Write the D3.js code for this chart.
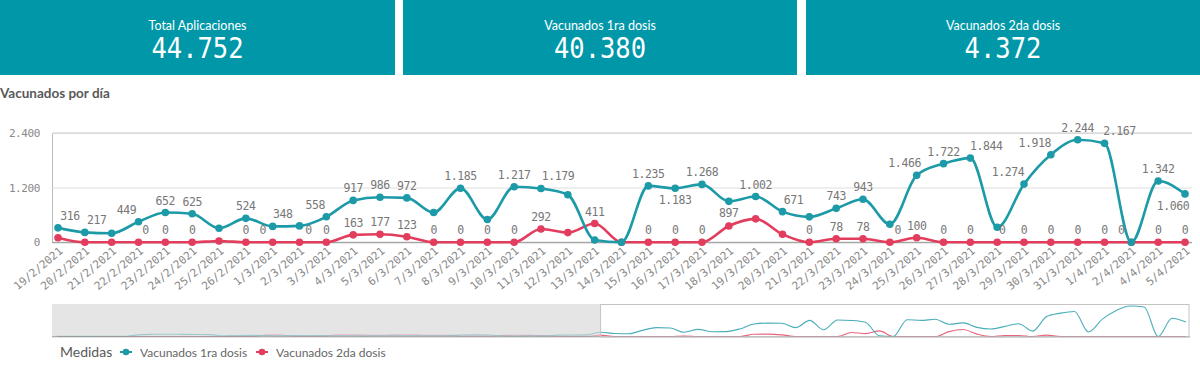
<!DOCTYPE html>
<html><head><meta charset="utf-8">
<script src="https://cdn.jsdelivr.net/npm/d3@7"></script>
<style>
html,body{margin:0;padding:0;background:#fff;}
svg{display:block;}
</style></head>
<body><svg id="c" width="1200" height="378"></svg>
<script>
// ---------- DATA ----------
const kpiTitles = ["Total Aplicaciones", "Vacunados 1ra dosis", "Vacunados 2da dosis"];
const kpiValues = [44752, 40380, 4372];

const dates = ["19/2/2021","20/2/2021","21/2/2021","22/2/2021","23/2/2021","24/2/2021","25/2/2021","26/2/2021",
 "1/3/2021","2/3/2021","3/3/2021","4/3/2021","5/3/2021","6/3/2021","7/3/2021","8/3/2021","9/3/2021","10/3/2021",
 "11/3/2021","12/3/2021","13/3/2021","14/3/2021","15/3/2021","16/3/2021","17/3/2021","18/3/2021","19/3/2021","20/3/2021",
 "21/3/2021","22/3/2021","23/3/2021","24/3/2021","25/3/2021","26/3/2021","27/3/2021","28/3/2021","29/3/2021","30/3/2021",
 "31/3/2021","1/4/2021","2/4/2021","4/4/2021","5/4/2021"];
const dosis1 = [316,217,198,449,652,625,308,524,
 348,359,558,917,986,972,652,1185,498,1217,1179,1042,50,0,1235,1183,1268,897,1002,671,557,743,943,396,1466,1722,1844,330,1274,1918,2244,
 2167,0,1342,1060];
const dosis2 = [101,0,0,0,0,0,30,0,
 0,0,0,163,177,123,0,0,0,0,292,212,411,0,0,0,0,358,513,176,0,78,78,0,100,0,0,0,0,0,0,
 0,0,0,0];
const hiddenLabels1 = ["21/2/2021","25/2/2021","2/3/2021","7/3/2021","9/3/2021","12/3/2021","13/3/2021","14/3/2021",
 "21/3/2021","24/3/2021","28/3/2021","2/4/2021"];
const hiddenLabels2 = ["19/2/2021","20/2/2021","21/2/2021","25/2/2021","12/3/2021","14/3/2021","18/3/2021","19/3/2021","20/3/2021"];
const yTicks = [0, 1200, 2400];

// earlier period only visible in the navigator (estimated small values)
const prevDates = d3.range(39).map(i => "prev" + i);
const prevDosis1 = [10,15,10,20,15,20,140,160,170,160,150,140,50,70,80,70,60,70,60,70,50,50,40,50,50,60,50,50,60,110,120,110,40,40,50,40,100,110,120];
const prevDosis2 = [0,0,0,0,0,0,0,0,0,0,0,0,0,0,0,100,110,30,30,30,100,110,100,90,100,110,100,90,90,40,40,40,80,90,80,70,20,20,20];

const seriesNames = ["Vacunados 1ra dosis", "Vacunados 2da dosis"];

// ---------- STYLE ----------
const C1 = "#1c9aa7", C2 = "#e23d5d", KPI = "#0098a9";
const mono = "'DejaVu Sans Mono', monospace";
const sans = "Lato, 'Noto Sans', sans-serif";
// label placement tweaks (collision avoidance in the original)
const labelDx1 = {"19/2/2021":12,"20/2/2021":12,"22/2/2021":-12,"1/3/2021":10,"3/3/2021":-11,"11/3/2021":17,"20/3/2021":11,
  "25/3/2021":-12,"27/3/2021":16,"29/3/2021":-16,"30/3/2021":-16,"1/4/2021":15,"5/4/2021":-12};
const labelBelow1 = ["16/3/2021","18/3/2021","5/4/2021"];
const labelDx2 = {"22/2/2021":7,"1/3/2021":-10,"2/3/2021":9,"24/3/2021":8,"28/3/2021":5,"2/4/2021":-10};

const loc = d3.formatLocale({decimal: ",", thousands: ".", grouping: [3], currency: ["$",""]});
const fmt = loc.format(",d");

const svg = d3.select("#c");

// ---------- KPI boxes ----------
const boxes = [[0,395],[403,797],[806,1200]];
boxes.forEach((b, i) => {
  const cx = (b[0] + b[1]) / 2;
  svg.append("rect").attr("x", b[0]).attr("y", 0).attr("width", b[1]-b[0]).attr("height", 75).attr("fill", KPI);
  svg.append("text").attr("x", cx).attr("y", 30).attr("text-anchor","middle")
    .attr("font-family", sans).attr("font-size", 12.5).attr("fill","#fff").text(kpiTitles[i]);
  svg.append("text").attr("transform", `translate(${cx},58) scale(0.88,1)`).attr("text-anchor","middle")
    .attr("font-family", mono).attr("font-size", 29).attr("fill","#fff").text(fmt(kpiValues[i]));
});

svg.append("text").attr("x", 0).attr("y", 98).attr("font-family", sans).attr("font-weight", "bold")
  .attr("font-size", 13.5).attr("fill", "#595959").text("Vacunados por día");

// ---------- main chart ----------
const x = d3.scalePoint().domain(dates).range([58, 1185]);
const y = d3.scaleLinear().domain([0, 2400]).range([242.3, 132.7]);

// grid + y axis
const yAxis = d3.axisLeft(y).tickValues(yTicks).tickFormat(fmt).tickSize(-(1192-52)).tickPadding(12);
const gy = svg.append("g").attr("transform", "translate(52,0)").call(yAxis);
gy.select(".domain").attr("stroke", "#bbb");
gy.selectAll(".tick line").attr("stroke", "#ddd");
gy.selectAll(".tick text").attr("font-family", mono).attr("font-size", 11).attr("letter-spacing", -0.4).attr("fill", "#888");
// baseline
svg.append("line").attr("x1", 52).attr("x2", 1192).attr("y1", y(0)).attr("y2", y(0)).attr("stroke", "#999");

// x axis
const xAxis = d3.axisBottom(x).tickSize(0).tickPadding(0);
const gx = svg.append("g").attr("transform", `translate(0,${y(0)})`).call(xAxis);
gx.select(".domain").remove();
gx.selectAll(".tick text")
  .attr("font-family", mono).attr("font-size", 11).attr("fill", "#888")
  .attr("text-anchor", "end").attr("dy", null).attr("y", 0)
  .attr("transform", "translate(5,10) rotate(-40)");

const line = d3.line().curve(d3.curveMonotoneX).x((d,i)=>x(dates[i])).y(d=>y(d));

function drawSeries(vals, color) {
  svg.append("path").datum(vals).attr("d", line).attr("fill","none").attr("stroke", color).attr("stroke-width", 2.6);
  svg.append("g").selectAll("circle").data(vals).join("circle")
    .attr("cx", (d,i)=>x(dates[i])).attr("cy", d=>y(d)).attr("r", 3.8).attr("fill", color);
}
function drawLabels(vals, hidden, dxMap, below) {
  svg.append("g").selectAll("text").data(vals.map((v,i)=>({v, d: dates[i]})).filter(o=>!hidden.includes(o.d)))
    .join("text")
    .attr("x", o => x(o.d) + (dxMap[o.d] || 0))
    .attr("y", o => y(o.v) + (below.includes(o.d) ? 16 : -8))
    .attr("text-anchor", "middle").attr("font-family", mono).attr("font-size", 11.5).attr("letter-spacing", -0.4)
    .attr("fill", "#777").text(o => fmt(o.v));
}
drawSeries(dosis2, C2);
drawSeries(dosis1, C1);
drawLabels(dosis1, hiddenLabels1, labelDx1, labelBelow1);
drawLabels(dosis2, hiddenLabels2, labelDx2, []);

// ---------- navigator ----------
const allDates = prevDates.concat(dates);
const all1 = prevDosis1.concat(dosis1), all2 = prevDosis2.concat(dosis2);
const nx = d3.scalePoint().domain(allDates).range([57, 1186]);
const ny = d3.scaleLinear().domain([0, 2244]).range([336.5, 306]);
const selX = nx(dates[0]);
svg.append("rect").attr("x", 52).attr("y", 304).attr("width", selX-52).attr("height", 33).attr("fill", "#e5e5e5");
const nline = d3.line().curve(d3.curveMonotoneX).x((d,i)=>nx(allDates[i])).y(d=>ny(d));
svg.append("path").datum(all2).attr("d", nline).attr("fill","none").attr("stroke", C2).attr("stroke-width", 1.1).attr("opacity", 0.8);
svg.append("path").datum(all1).attr("d", nline).attr("fill","none").attr("stroke", C1).attr("stroke-width", 1.1).attr("opacity", 0.8);
svg.append("rect").attr("x", 52).attr("y", 304).attr("width", selX-52).attr("height", 33).attr("fill", "#e5e5e5").attr("opacity", 0.55);
svg.append("line").attr("x1", 52).attr("x2", 1190).attr("y1", 336.8).attr("y2", 336.8).attr("stroke", "#888").attr("stroke-width", 0.8);
svg.append("rect").attr("x", selX).attr("y", 304.5).attr("width", 1189-selX).attr("height", 32.5)
  .attr("fill", "none").attr("stroke", "#c4c4c4").attr("stroke-width", 1);

// ---------- legend ----------
const lg = svg.append("g").attr("font-family", sans).attr("fill", "#666");
lg.append("text").attr("x", 60).attr("y", 357).attr("font-size", 14).attr("fill", "#595959").text("Medidas");
const legendItems = [{name: seriesNames[0], c: C1, x: 120}, {name: seriesNames[1], c: C2, x: 256}];
legendItems.forEach(it => {
  lg.append("line").attr("x1", it.x).attr("x2", it.x+12).attr("y1", 352).attr("y2", 352).attr("stroke", it.c).attr("stroke-width", 2);
  lg.append("circle").attr("cx", it.x+6).attr("cy", 352).attr("r", 3.3).attr("fill", it.c);
  lg.append("text").attr("x", it.x+20).attr("y", 356.5).attr("font-size", 12).attr("fill", "#666").text(it.name);
});
</script></body></html>
